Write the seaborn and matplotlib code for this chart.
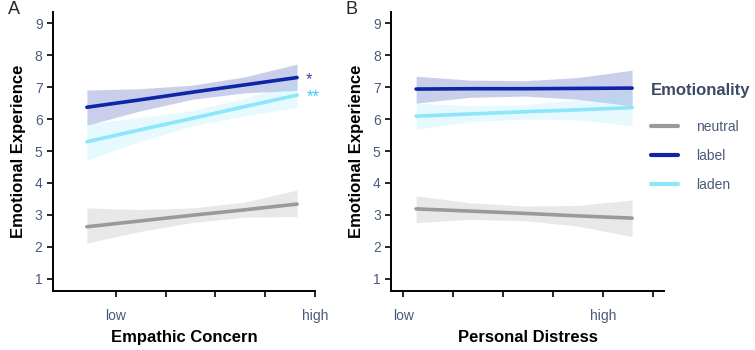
import seaborn as sns
import matplotlib.pyplot as plt
import pandas as pd

# x sample positions along each fitted line (tick units: low=1 ... high=5)
x_a = [0.42, 1.475, 2.53, 3.585, 4.64]
x_b = [1.26, 2.34, 3.42, 4.50, 5.58]

groups = ["neutral", "label", "laden"]
colors = {"neutral": "#9a9a9a", "label": "#0d25a6", "laden": "#8ee6fb"}

# Panel A - Empathic Concern
fit_a = {
    "neutral": [2.63, 2.81, 2.99, 3.16, 3.34],
    "label": [6.37, 6.60, 6.84, 7.07, 7.30],
    "laden": [5.29, 5.66, 6.02, 6.39, 6.75],
}
upper_a = {
    "neutral": [3.22, 3.17, 3.22, 3.40, 3.78],
    "label": [6.91, 6.95, 7.06, 7.32, 7.72],
    "laden": [5.86, 6.04, 6.27, 6.65, 7.16],
}
lower_a = {
    "neutral": [2.12, 2.48, 2.76, 2.93, 2.95],
    "label": [5.81, 6.25, 6.62, 6.82, 6.90],
    "laden": [4.72, 5.30, 5.78, 6.10, 6.37],
}

# Panel B - Personal Distress
fit_b = {
    "neutral": [3.19, 3.12, 3.05, 2.97, 2.90],
    "label": [6.94, 6.95, 6.95, 6.96, 6.97],
    "laden": [6.09, 6.16, 6.23, 6.29, 6.36],
}
upper_b = {
    "neutral": [3.60, 3.38, 3.28, 3.30, 3.47],
    "label": [7.34, 7.22, 7.20, 7.30, 7.53],
    "laden": [6.50, 6.42, 6.45, 6.60, 6.90],
}
lower_b = {
    "neutral": [2.76, 2.86, 2.82, 2.65, 2.32],
    "label": [6.50, 6.68, 6.72, 6.62, 6.41],
    "laden": [5.68, 5.92, 6.00, 5.98, 5.79],
}

ticks_a = [1, 2, 3, 4, 5]
ticklabels_a = ["low", "", "", "", "high"]
ticks_b = [1, 2, 3, 4, 5, 6]
ticklabels_b = ["low", "", "", "", "high", ""]
y_ticks = [1, 2, 3, 4, 5, 6, 7, 8, 9]

sns.set_style("ticks")
plt.rcParams["font.family"] = ["Liberation Sans", "DejaVu Sans"]
tick_color = "#4a5b78"


def long_df(xs, fit):
    rows = []
    for g in groups:
        for x, y in zip(xs, fit[g]):
            rows.append({"x": x, "y": y, "Emotionality": g})
    return pd.DataFrame(rows)


fig = plt.figure(figsize=(7.55, 3.5), dpi=100)
ax_a = fig.add_axes([0.0702, 0.1686, 0.347, 0.797])
ax_b = fig.add_axes([0.518, 0.1686, 0.3616, 0.797])

panels = [
    (ax_a, x_a, fit_a, upper_a, lower_a, ticks_a, ticklabels_a, "Empathic Concern", (-0.26, 5.0)),
    (ax_b, x_b, fit_b, upper_b, lower_b, ticks_b, ticklabels_b, "Personal Distress", (0.76, 6.22)),
]

for ax, xs, fit, up, lo, ticks, tlabels, xlabel, xlim in panels:
    for g in groups:
        ax.fill_between(xs, lo[g], up[g], color=colors[g], alpha=0.22, linewidth=0)
    sns.lineplot(data=long_df(xs, fit), x="x", y="y", hue="Emotionality",
                 palette=colors, hue_order=groups, linewidth=2.6, ax=ax, legend=False)
    ax.set_xlim(*xlim)
    ax.set_ylim(0.62, 9.35)
    ax.set_xticks(ticks)
    ax.set_xticklabels(tlabels)
    ax.set_yticks(y_ticks)
    ax.tick_params(axis="both", colors="black", labelcolor=tick_color, labelsize=10,
                   length=4, width=1.2)
    ax.tick_params(axis="x", pad=9)
    ax.set_xlabel(xlabel, fontsize=12, fontweight="bold", labelpad=5, color="black")
    ax.set_ylabel("Emotional Experience", fontsize=12, fontweight="bold", labelpad=6,
                  color="black")
    for s in ["left", "bottom"]:
        ax.spines[s].set_linewidth(1.4)
        ax.spines[s].set_color("black")
    sns.despine(ax=ax)

# significance markers
ax_a.text(4.88, 7.25, "*", color="#3a4ab0", fontsize=12, ha="center", va="center", clip_on=False)
ax_a.text(4.96, 6.70, "**", color="#33ccff", fontsize=12, ha="center", va="center", clip_on=False)

fig.text(0.019, 0.972, "A", fontsize=13, ha="center", va="center")
fig.text(0.466, 0.972, "B", fontsize=13, ha="center", va="center")

handles = [plt.Line2D([], [], color=colors[g], linewidth=3) for g in groups]
leg = fig.legend(handles, groups, loc="upper left", bbox_to_anchor=(0.846, 0.80),
                 frameon=False, fontsize=10, handlelength=1.9, handletextpad=1.3,
                 labelspacing=1.1, title="Emotionality",
                 title_fontproperties={"weight": "bold", "size": 12})
leg.get_title().set_color("#3c4a63")
leg._legend_box.align = "left"
leg._legend_box.sep = 16
for t in leg.get_texts():
    t.set_color(tick_color)

plt.savefig("out.png", dpi=100)
